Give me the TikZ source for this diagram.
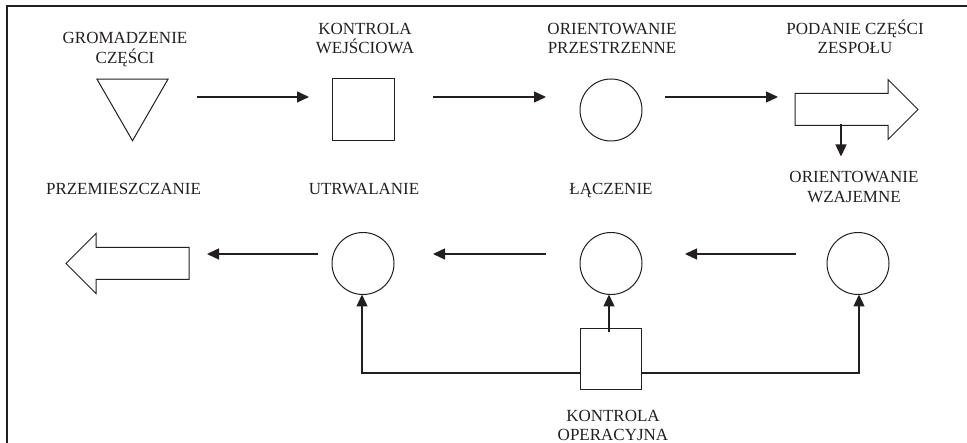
\documentclass[tikz,border=0pt]{standalone}
\usepackage{fontspec}
\setmainfont{Liberation Serif}
\usetikzlibrary{arrows.meta,shapes.geometric,shapes.arrows,calc}
\definecolor{ink}{RGB}{35,31,32}
\begin{document}
\begin{tikzpicture}[x=1pt,y=-1pt,
  every node/.style={inner sep=0pt,outer sep=0pt},
  lbl/.style={font=\fontsize{17}{19.5}\selectfont,text=ink,align=center,anchor=base},
  shp/.style={draw=ink,line width=1pt},
  sqr/.style={shp,minimum size=62pt},
  circ/.style={shp,circle,minimum size=62pt},
  tri/.style={shp,regular polygon,regular polygon sides=3,shape border rotate=180,minimum size=82pt},
  bigarrow/.style={shp,single arrow,inner xsep=0pt,inner ysep=15.5pt,minimum height=123pt,
    single arrow head extend=14pt,single arrow tip angle=90},
  arr/.style={draw=ink,line width=1.4pt,-{Triangle[length=12pt,width=11pt]}},
  frame/.style={draw=ink,line width=2pt}]
\useasboundingbox (0,0) rectangle (967,443);
\draw[frame] (7,443) |- (967,6);

% upper row
\node[tri] (gr) at (132.5,99.7) {};
\node[sqr] (kw) at (363,110) {};
\node[circ] (op) at (611,110) {};
\node[bigarrow,anchor=tip] (pz) at (918,109.5) {};

% lower row
\node[bigarrow,shape border rotate=180,anchor=tip] (pm) at (66,263.5) {};
\node[circ] (ut) at (363,263.5) {};
\node[circ] (la) at (611,263.5) {};
\node[circ] (ow) at (858,263.5) {};
\node[shp,minimum size=61pt] (ko) at (610.5,359.5) {};

% labels (anchored at the baseline of their last line)
\node[lbl] (tgr) at (125,63.5) {GROMADZENIE\\CZĘŚCI};
\node[lbl] (tkw) at (365,54) {KONTROLA\\WEJŚCIOWA};
\node[lbl] (top) at (612,54) {ORIENTOWANIE\\PRZESTRZENNE};
\node[lbl] (tpz) at (855,54) {PODANIE CZĘŚCI\\ZESPOŁU};
\node[lbl] (tow) at (854,202.5) {ORIENTOWANIE\\WZAJEMNE};
\node[lbl] (tpm) at (123.5,195) {PRZEMIESZCZANIE};
\node[lbl] (tut) at (364,195) {UTRWALANIE};
\node[lbl] (tla) at (611,195) {ŁĄCZENIE};
\node[lbl] (tko) at (613,441) {KONTROLA\\OPERACYJNA};

% flow along the upper row
\draw[arr] ([shift={(64.5,-2.7)}]gr.center) -- ([shift={(-23,-13)}]kw.west);
\draw[arr] ([shift={(39,-13)}]kw.east) -- ([shift={(-34,-13)}]op.west);
\draw[arr] ([shift={(23,-13)}]op.east) -- ([shift={(-17,-12.5)}]pz.tail);
\draw[arr] ([shift={(46,15)}]pz.tail) -- ([shift={(46,47)}]pz.tail);

% flow along the lower row
\draw[arr] ([shift={(-31,-9.5)}]ow.west) -- ([shift={(105,-9.5)}]la.west);
\draw[arr] ([shift={(-34,-9.5)}]la.west) -- ([shift={(39,-9.5)}]ut.east);
\draw[arr] ([shift={(-14,-9.5)}]ut.west) -- ([shift={(18,-9.5)}]pm.tail);

% operational check feeding the lower row
\draw[arr] ([shift={(0,13.5)}]ko.west) -| ([shift={(-1,0)}]ut.south);
\draw[arr] ([shift={(0,13.5)}]ko.east) -| ([shift={(1,0)}]ow.south);
\draw[arr] ([shift={(-1.5,3)}]ko.north) -- ([shift={(-2,0)}]la.south);
\end{tikzpicture}
\end{document}
